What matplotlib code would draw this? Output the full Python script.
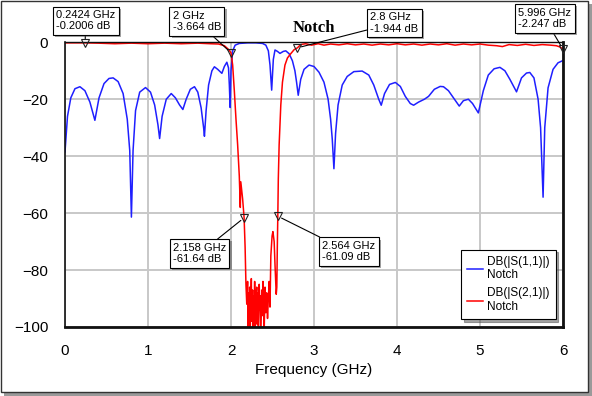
import matplotlib
matplotlib.use('Agg')
import matplotlib.pyplot as plt
from matplotlib.patches import Rectangle
import matplotlib.patheffects as pe

plt.rcParams['font.family'] = ['Liberation Sans', 'DejaVu Sans']

# S11 (blue)
s11_freq = [0.00, 0.03, 0.07, 0.12, 0.18, 0.24, 0.30, 0.36, 0.41, 0.47, 0.53, 0.58, 0.64, 0.70,
            0.75, 0.78, 0.80, 0.82, 0.85, 0.90, 0.97, 1.03, 1.08, 1.12, 1.14, 1.17, 1.22, 1.28,
            1.33, 1.38, 1.42, 1.46, 1.51, 1.56, 1.60, 1.64, 1.67, 1.68, 1.70, 1.73, 1.77, 1.80,
            1.84, 1.89, 1.92, 1.95, 1.97, 1.98, 1.99, 2.00, 2.02, 2.05, 2.10, 2.20, 2.30, 2.38,
            2.42, 2.45, 2.47, 2.49, 2.51, 2.53, 2.56, 2.59, 2.63, 2.66, 2.70, 2.74, 2.77, 2.79,
            2.81, 2.84, 2.88, 2.94, 3.00, 3.06, 3.12, 3.17, 3.20, 3.22, 3.24, 3.26, 3.29, 3.34,
            3.40, 3.48, 3.58, 3.66, 3.72, 3.78, 3.81, 3.85, 3.91, 3.98, 4.04, 4.10, 4.16, 4.20,
            4.26, 4.33, 4.38, 4.45, 4.52, 4.56, 4.62, 4.68, 4.75, 4.80, 4.86, 4.91, 4.98, 5.04,
            5.10, 5.17, 5.24, 5.30, 5.36, 5.44, 5.50, 5.56, 5.60, 5.65, 5.70, 5.73, 5.76, 5.78,
            5.82, 5.88, 5.94, 6.00]
s11_db = [-38.5, -26, -19.5, -16.3, -15.6, -17, -21, -27.4, -19.5, -14.5, -12.7, -12.5, -13.8, -18,
          -27, -38, -61.4, -38, -24, -17.5, -15.9, -17.5, -22, -29, -33.8, -26, -20, -18,
          -19.5, -22, -23.6, -20, -16.5, -15.6, -17.5, -23, -30, -33, -24, -15, -10, -8.6,
          -9.5, -10.9, -8.5, -7, -9, -15, -22.9, -10, -3, -1, -0.4, -0.2, -0.2, -0.4,
          -1.0, -3, -8, -16.8, -6, -2.7, -3.2, -3.9, -3.2, -3.0, -4, -6.5, -10, -14,
          -18.6, -13, -9.5, -8, -8.5, -10.5, -14, -20, -27, -34, -44.4, -32, -22, -15,
          -12, -10.3, -10.1, -11.5, -15, -20, -22.1, -18, -14.8, -14.1, -15.5, -19, -21.5, -22.1,
          -21, -20, -19, -16.5, -15.5, -15.6, -17, -19.5, -22.4, -20.5, -20, -21.5, -24.8, -17,
          -11.5, -9.3, -8.8, -10, -13, -17.4, -12.5, -10.8, -10.6, -12.5, -20, -30, -54.4, -30,
          -16, -9.5, -7.2, -6.4]

# S21 (red)
s21_freq = [0.00, 0.10, 0.24, 0.40, 0.60, 0.80, 1.00, 1.20, 1.40, 1.60, 1.75, 1.85, 1.92, 1.97,
            2.00, 2.02, 2.04, 2.06, 2.08, 2.10, 2.112, 2.118, 2.14, 2.158, 2.17, 2.18,
            2.19, 2.20, 2.205, 2.21, 2.22, 2.225, 2.23, 2.24, 2.245, 2.25, 2.26, 2.265, 2.27,
            2.28, 2.285, 2.29, 2.30, 2.31, 2.315, 2.32, 2.33, 2.34, 2.345, 2.35, 2.36, 2.37,
            2.38, 2.385, 2.39, 2.40, 2.41, 2.42, 2.43, 2.44, 2.45, 2.46, 2.47,
            2.48, 2.495, 2.505, 2.52, 2.53, 2.545, 2.552, 2.558, 2.564, 2.57, 2.58, 2.60,
            2.62, 2.65, 2.68, 2.72, 2.76, 2.80, 2.84, 2.90, 2.97, 3.05, 3.12, 3.20, 3.30,
            3.40, 3.50, 3.60, 3.70, 3.80, 3.90, 4.00, 4.10, 4.20, 4.30, 4.40, 4.50, 4.60,
            4.70, 4.80, 4.90, 5.00, 5.10, 5.20, 5.27, 5.35, 5.45, 5.55, 5.65, 5.75, 5.85,
            5.92, 5.96, 5.996, 6.00]
s21_db = [-0.2, -0.2, -0.2, -0.3, -0.5, -0.3, -0.5, -0.3, -0.5, -0.3, -0.5, -0.6, -1.2, -2.5,
          -3.664, -8, -17, -27, -36, -47, -58, -49, -55, -61.64, -72, -85,
          -92, -84, -103, -88, -97, -86, -103, -90, -83, -98, -87, -103, -89,
          -95, -84, -103, -91, -86, -99, -88, -103, -85, -94, -89, -103, -87,
          -96, -84, -92, -101, -86, -95, -88, -97, -90, -84, -93,
          -75, -68, -66.5, -70, -78, -88.5, -86, -72, -61.09, -48, -36, -22,
          -14, -8, -5.5, -4, -2.6, -1.944, -0.8, -0.5, -1.0, -0.5, -1.0, -0.6, -0.9,
          -0.5, -0.9, -0.6, -1.0, -0.6, -0.9, -0.5, -0.9, -0.6, -1.0, -0.6, -0.9, -0.5,
          -1.0, -0.6, -0.9, -0.6, -1.0, -1.2, -1.5, -0.8, -1.1, -0.7, -1.1, -0.8, -1.0,
          -1.2, -1.6, -2.247, -2.3]

# markers: frequency, level, and where the readout box sits (data units)
mk_freq = [0.2424, 2.0, 2.8, 5.996, 2.158, 2.564]
mk_db = [-0.2006, -3.664, -1.944, -2.247, -61.64, -61.09]
mk_box = [(0.25, 7.6), (1.59, 7.3), (3.97, 6.8), (5.78, 8.4), (1.62, -74.2), (3.42, -73.5)]

fig = plt.figure(figsize=(5.92, 3.96), dpi=100)
ax = fig.add_axes([65 / 592, 1 - 327 / 396, 498 / 592, 284.7 / 396])

ax.plot(s11_freq, s11_db, color='#1f1fff', lw=1.1, label='DB(|S(1,1)|)\nNotch')
ax.plot(s21_freq, s21_db, color='#ff0000', lw=1.1, label='DB(|S(2,1)|)\nNotch')

ax.plot(mk_freq, mk_db, ls='none', marker='v', ms=6, mfc='none', mec='#222222', mew=0.8, clip_on=False, zorder=5)

for f, d, (tx, ty) in zip(mk_freq, mk_db, mk_box):
    t = ax.annotate(f'{f:g} GHz\n{d:g} dB', xy=(f, d), xytext=(tx, ty), ha='center', va='center',
                    multialignment='left', fontsize=8, linespacing=1.2, annotation_clip=False, zorder=6,
                    bbox=dict(boxstyle='square,pad=0.3', fc='white', ec='black', lw=0.8),
                    arrowprops=dict(arrowstyle='-', color='black', lw=0.8, shrinkA=0, shrinkB=3))
    t.get_bbox_patch().set_path_effects([pe.SimplePatchShadow(offset=(1.5, -1.5), alpha=0.5), pe.Normal()])

ax.set_xlim(0, 6)
ax.set_ylim(-100, 0)
ax.set_xticks(range(0, 7))
ax.set_yticks(range(-100, 1, 20))
ax.grid(color='#c8c8c8', lw=1.4)
ax.set_axisbelow(True)
ax.tick_params(length=0, pad=12, labelsize=11)
ax.set_xlabel('Frequency (GHz)', fontsize=11, labelpad=4)
for side, w in [('left', 1.2), ('top', 1.0), ('right', 2.0), ('bottom', 2.0)]:
    ax.spines[side].set_linewidth(w)
    ax.spines[side].set_color('#111111')

leg = ax.legend(loc='lower right', bbox_to_anchor=(0.985, 0.028), borderaxespad=0, fontsize=8.5,
                fancybox=False, shadow=True, edgecolor='black', framealpha=1, handlelength=1.4,
                handletextpad=0.3, labelspacing=0.5, borderpad=0.5)
leg.get_frame().set_linewidth(0.8)

fig.text(314 / 592, 1 - 28 / 396, 'Notch', ha='center', va='center', fontsize=12,
         fontweight='bold', family='Liberation Serif')

# outer frame with shadow
fig.patches.append(Rectangle((4 / 592, 0), 588 / 592, 4 / 396, transform=fig.transFigure, fc='#9a9a9a', ec='none'))
fig.patches.append(Rectangle((588 / 592, 0), 4 / 592, 392 / 396, transform=fig.transFigure, fc='#9a9a9a', ec='none'))
fig.patches.append(Rectangle((0.5 / 592, 4.5 / 396), 587 / 592, 391 / 396, transform=fig.transFigure,
                             fc='none', ec='#333333', lw=1))

fig.savefig('out.png', dpi=100)
